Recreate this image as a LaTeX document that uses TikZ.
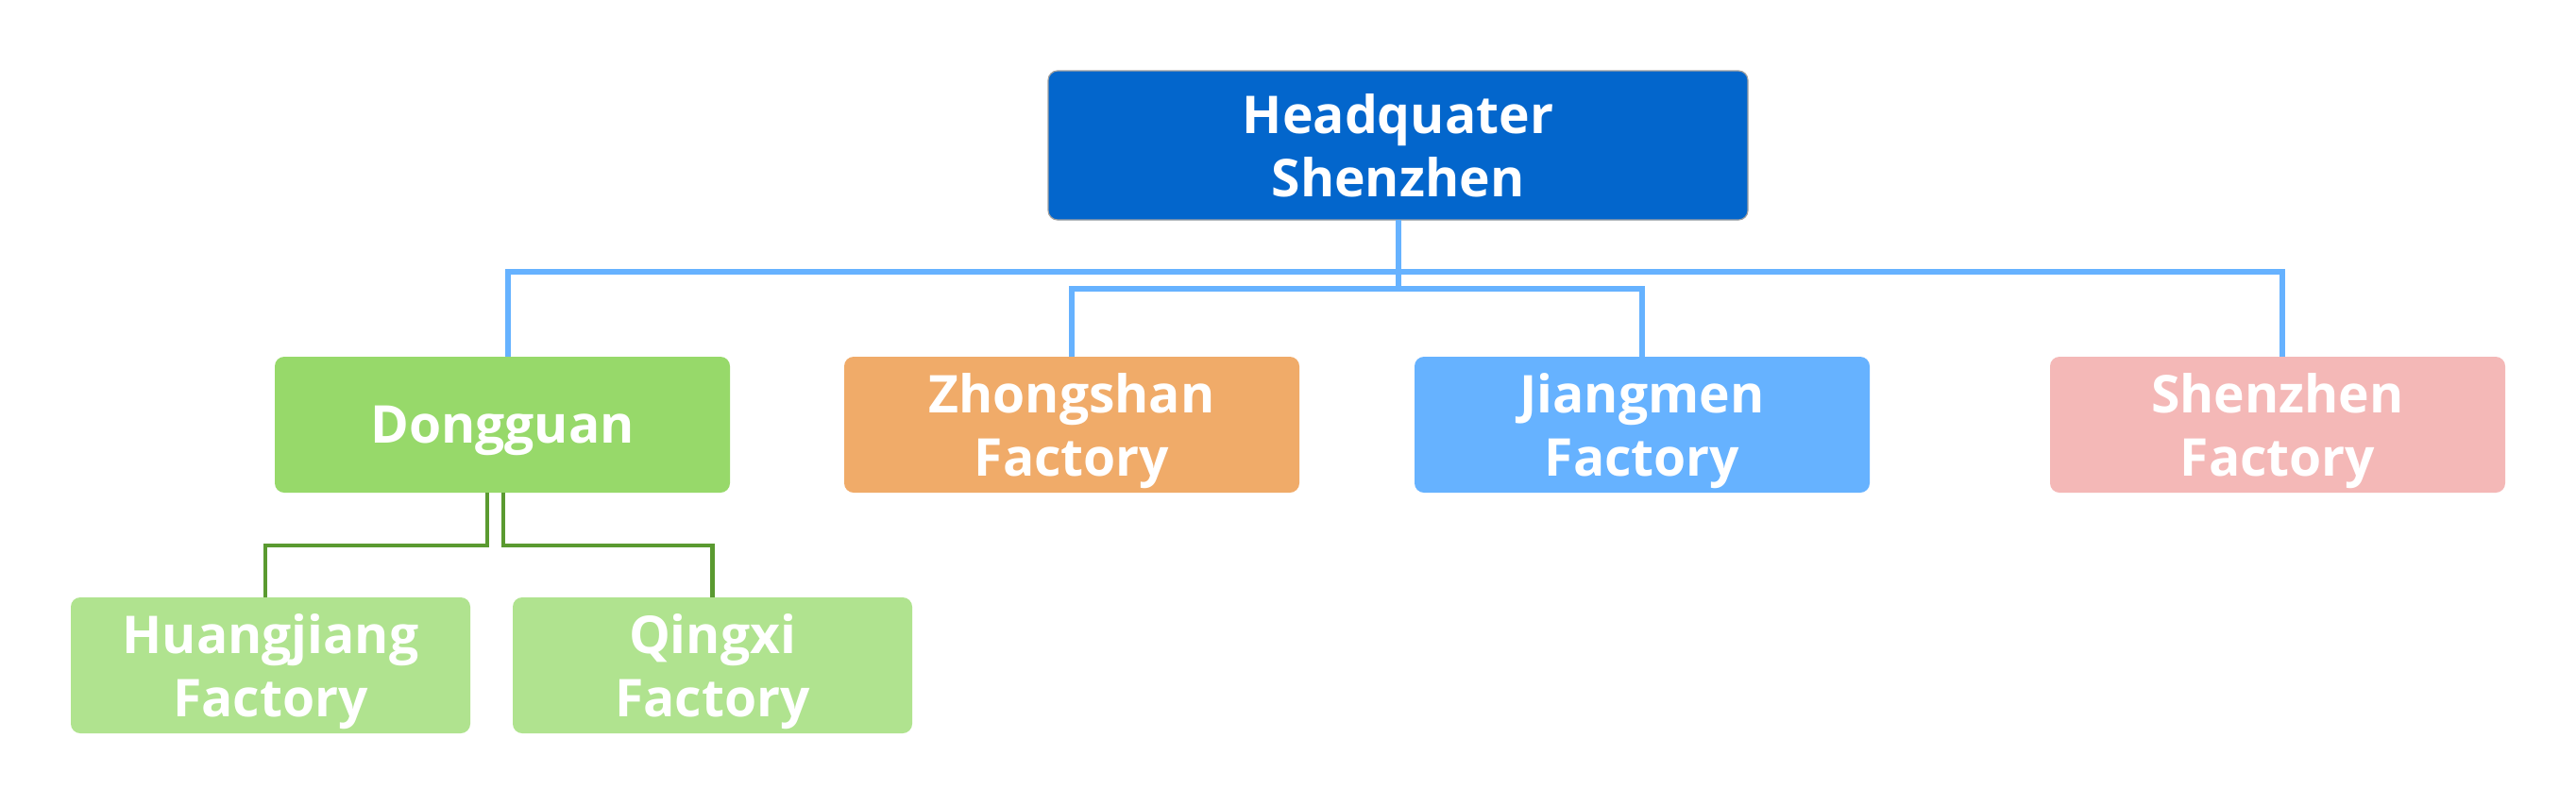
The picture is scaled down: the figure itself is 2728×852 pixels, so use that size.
\documentclass[tikz,border=0pt]{standalone}
\usepackage{fontspec}
\setmainfont{Open Sans}
\usetikzlibrary{calc}
\definecolor{hqblue}{RGB}{3,102,204}
\definecolor{dggreen}{RGB}{151,217,106}
\definecolor{ltgreen}{RGB}{176,227,143}
\definecolor{zsorange}{RGB}{240,171,105}
\definecolor{jmblue}{RGB}{102,178,255}
\definecolor{szpink}{RGB}{244,184,183}
\definecolor{lineblue}{RGB}{102,178,255}
\definecolor{linegreen}{RGB}{90,154,48}
\definecolor{hqborder}{RGB}{160,160,160}
\tikzset{
  box/.style={rounded corners=5pt, inner sep=0pt, outer sep=0pt, anchor=north west,
    align=center, text=white, text depth=0pt,
    font=\fontsize{27.6pt}{33.5pt}\selectfont\bfseries},
  bigbox/.style={box, minimum width=241pt, minimum height=72pt},
  smallbox/.style={box, minimum width=211.5pt, minimum height=72pt},
  hqbox/.style={box, minimum width=370.5pt, minimum height=79pt, fill=hqblue, draw=hqborder, line width=0.6pt},
  blueline/.style={draw=lineblue, line width=3pt},
  greenline/.style={draw=linegreen, line width=2.2pt},
}
\begin{document}
\begin{tikzpicture}[x=0.5pt, y=-0.5pt]
\useasboundingbox[fill=white] (0,0) rectangle (2728,852);
% nodes
\node[hqbox] (hq) at (1110,75) {Headquater\\Shenzhen};
\node[bigbox, fill=dggreen] (dg) at (291,378) {Dongguan};
\node[bigbox, fill=zsorange] (zs) at (894,378) {Zhongshan\\Factory};
\node[bigbox, fill=jmblue] (jm) at (1498,378) {Jiangmen\\Factory};
\node[bigbox, fill=szpink] (sz) at (2171,378) {Shenzhen\\Factory};
\node[smallbox, fill=ltgreen] (hj) at (75,633) {Huangjiang\\Factory};
\node[smallbox, fill=ltgreen] (qx) at (543,633) {Qingxi\\Factory};
% bus coordinates
\coordinate (busA) at (1480,288);
\coordinate (busB) at (1480,306);
\coordinate (busC) at (0,578);
% blue connectors
\draw[blueline] (hq.south) -- (hq.south |- busB);
\draw[blueline] ([xshift=3pt]dg.north) |- ([xshift=2.5pt]sz.north |- busA) -- ([xshift=2.5pt]sz.north);
\draw[blueline] (zs.north) |- (jm.north |- busB) -- (jm.north);
% green connectors
\draw[greenline] ([xshift=-8pt]dg.south) |- ([xshift=-2.75pt]hj.north |- busC) -- ([xshift=-2.75pt]hj.north);
\draw[greenline] ([xshift=0.5pt]dg.south) |- (qx.north |- busC) -- (qx.north);
\end{tikzpicture}
\end{document}
